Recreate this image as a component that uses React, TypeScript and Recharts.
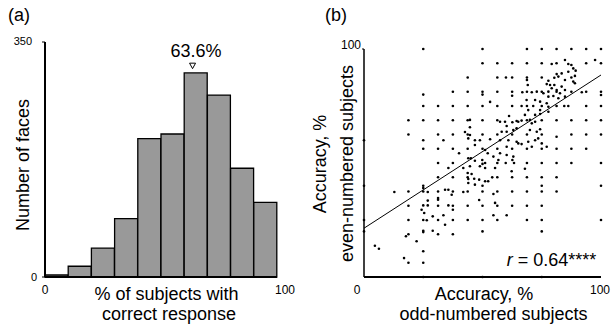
import React from "react";
import {
  BarChart,
  Bar,
  XAxis,
  YAxis,
  ScatterChart,
  Scatter,
  ReferenceLine,
  ReferenceDot,
} from "recharts";

const FONT = "'Liberation Sans', Arial, Helvetica, sans-serif";

// ---------- Panel (a): histogram ----------
const binStarts = [0, 10, 20, 30, 40, 50, 60, 70, 80, 90];
const binWidth = 10;
const faceCounts = [3, 16, 43, 87, 206, 213, 304, 271, 162, 111];
const peakPercent = 63.6;
const peakLabel = "63.6%";
const histYTicks = [0, 350];
const histXTicks = [0, 100];

// ---------- Panel (b): split-half scatter ----------
const scatterXTicks = [0, 100];
const scatterYTicks = [100];
const fitStart = { x: 0, y: 21.4 };
const fitEnd = { x: 100, y: 88.6 };
const corrText = "0.64****";

// [odd-numbered subjects accuracy %, even-numbered subjects accuracy %]
const splitHalfPoints: [number, number][] = [
  [25, 100], [25, 80], [25, 75], [31.25, 75], [18.75, 68.75], [25, 68.75], [31.25, 68.75],
  [18.75, 62.5], [31.25, 62.5], [25, 60], [25, 56.25], [31.25, 56.25], [0, 60],
  [50, 100], [50, 93.75], [56.25, 93.75], [62.5, 93.75], [43.75, 87.5], [56.25, 87.5], [59.9, 87.5],
  [62.5, 87.5], [37.5, 81.25], [43.75, 81.25], [50, 81.25], [50, 80], [56.25, 81.25], [62.5, 81.25],
  [62.5, 79.5], [53.2, 76.8], [37.5, 75], [43.75, 75], [50, 75], [56.25, 75], [62.5, 75], [61.2, 70.6],
  [37.5, 68.75], [43.75, 68.75], [44.7, 68.9], [50, 68.75], [56.25, 68.75], [57.4, 68.1], [59.5, 68.1],
  [62.6, 67.9], [64.4, 68.4], [44.7, 65.7], [60.2, 66.2], [58.1, 63.7], [60.2, 63.7], [63, 64.5],
  [64.4, 65.2], [37.5, 62.5], [42.6, 63.6], [43.75, 62.5], [44.7, 62.3], [50, 62.5], [56.25, 62.5],
  [62.5, 62.5], [33.5, 60], [44, 60.8], [46.8, 60], [48.9, 60], [53.2, 60.4], [57.4, 60], [60.9, 60],
  [64.4, 59.3], [46.8, 57.9], [60.2, 57.1], [37.5, 56.25], [43.75, 56.25], [50, 56.25], [51.1, 55.7],
  [56.25, 56.25], [62.5, 56.25], [40.1, 54.3], [52.2, 54.3], [57.4, 54.3], [60.2, 53.5], [44, 52.1],
  [45.1, 52.1], [54.6, 52.8], [46.8, 51], [56.7, 51.3], [63, 52.8],
  [68.75, 100], [75, 100], [81.25, 100], [87.5, 100], [93.75, 100], [100, 100],
  [68.75, 93.75], [75, 93.75], [79.2, 93.4], [81.25, 93.75], [84.8, 95.2], [86.2, 93.4], [87.5, 93],
  [93.75, 93.75], [97.5, 95.2], [100, 93.75], [88.3, 91.5], [86.2, 90], [89.3, 90.5], [81.3, 89],
  [83.4, 89.3], [68.75, 87.5], [75, 87.5], [80.3, 87.4], [82, 87.9], [87.5, 87.5], [89, 88.2],
  [68.75, 86.4], [77.8, 86.1], [84.8, 86.4], [88.3, 85.7], [89, 85], [69.1, 84.2], [77.1, 84.6],
  [78.5, 84.2], [80.3, 84.2], [83.4, 83.5], [79.2, 82.8], [81.3, 82], [84.8, 82], [66.8, 81],
  [68.75, 81.25], [70.8, 81], [72.9, 81.3], [75, 81.25], [75.7, 80.6], [77.8, 81.3], [81.25, 81.25],
  [82.7, 80.6], [87.5, 81.25], [91.9, 81], [93.75, 81.25], [100, 81.25], [100, 79.8], [77.8, 79.1],
  [79.9, 79.4], [82, 78.4], [84.8, 79.1], [68.6, 77.6], [72.2, 77.6], [74.3, 76.9], [77.1, 76.2],
  [66.5, 75], [68.75, 75], [71.4, 75], [75, 75], [77.8, 74.7], [81.25, 75], [84.5, 75], [86.2, 75],
  [93.75, 75], [100, 75], [69.3, 73.2], [74.3, 73.2], [77.8, 72.5], [67.9, 71.1], [72.2, 71.1],
  [74.3, 71.5], [68.75, 68.75], [70, 68.9], [75, 68.75], [81.25, 68.75], [87.5, 68.75], [93.75, 68.75],
  [100, 68.75], [65.1, 68.1], [66.5, 68.6], [70.8, 67.4], [72.2, 68.1], [70, 64.5], [72.9, 63.7],
  [74.3, 64.8], [68.75, 62.5], [75, 62.5], [81.25, 61.5], [87.5, 62.5], [93.75, 62.5], [100, 62.5],
  [65.1, 58.6], [66.5, 58.3], [69.3, 59.3], [72.2, 60], [73.5, 60.8], [75, 58.6], [70.8, 57.1],
  [68.75, 56.25], [75, 56.25], [77.1, 57.1], [81.25, 56.25], [87.5, 56.25], [93.75, 56.25],
  [31.25, 50], [25, 40], [25, 39], [12.8, 37.3], [18.75, 37.5], [25, 37.5], [26.9, 37.3], [31.25, 37.5],
  [31.25, 34.6], [31.25, 33.9], [26.9, 33.5], [18.75, 31.25], [25, 31.4], [26.9, 31.4], [31.25, 31.25],
  [24.3, 29.5], [25.4, 28.1], [29, 26.6], [18.75, 25], [25, 25], [26.5, 24.9], [31.25, 25], [25, 20.3],
  [25, 19.7], [29, 20.3], [18.75, 18.75], [17.7, 17.9], [31.25, 18.75], [22.2, 15.7], [4.6, 13.7],
  [6.3, 12.4], [25, 11.3], [16.9, 8.3], [18.75, 6.25], [25, 6.25], [0, 40], [0, 25], [0, 20],
  [31.25, 43.75], [37.5, 50], [49.9, 51.3], [51.1, 50], [50, 49.6], [56.25, 50], [59.8, 50], [62.6, 51.3],
  [63.3, 50], [35.6, 47.8], [41.9, 47.8], [44.7, 48.6], [48.9, 48.6], [51.1, 47.8], [55.3, 47.8],
  [62.3, 46.4], [43.75, 45.6], [45.4, 45.2], [37.5, 43.75], [43.75, 43.75], [44, 43], [46.5, 43.1],
  [48.6, 42.7], [51.1, 42], [52.4, 42], [54.1, 43.7], [56.25, 43.75], [62.5, 43.75], [44, 41.2],
  [46.8, 40.5], [50, 40], [34.2, 38.3], [35.6, 38.3], [37.5, 37.5], [37, 36.1], [41.9, 37.3],
  [43.75, 37.5], [50, 37.5], [54.6, 36.4], [56.25, 37.5], [62.5, 37.5], [48.6, 33.8], [55.3, 32.5],
  [35.6, 31.4], [37.5, 31.25], [37.5, 29.5], [43.75, 31.25], [50, 31.25], [56.25, 31.25], [62.5, 31.25],
  [33.5, 27.1], [54.6, 27.1], [60.2, 27.1], [37.5, 25], [43.75, 25], [50, 25], [56.25, 25], [34.2, 22.9],
  [50, 20], [37.5, 18.75],
  [68.75, 50], [75, 50], [81.25, 50], [87.5, 50], [100, 50], [67.9, 47.5], [68.75, 43.75], [75, 43.75],
  [81.25, 43.75], [75, 40], [100, 40], [68.75, 37.5], [75, 37.5], [81.25, 37.5], [68.75, 31.25],
  [75, 31.25], [68.75, 25], [75, 25], [100, 25], [75, 20],
  [25, 0], [50, 0], [75, 0],
];

const histData = binStarts.map((s, i) => ({ mid: s + binWidth / 2, count: faceCounts[i] }));
const scatterData = splitHalfPoints.map(([x, y]) => ({ x, y }));

type TickOpts = {
  anchor: "start" | "middle" | "end";
  size: number;
  dy: string;
  shift?: Record<number, [number, number]>;
};

const makeTick = (o: TickOpts) => (props: any) => {
  const { x, y, payload } = props;
  const v = payload.value;
  const s = (o.shift && o.shift[v]) || [0, 0];
  return (
    <text
      x={x + s[0]}
      y={y + s[1]}
      dy={o.dy}
      textAnchor={o.anchor}
      fontSize={o.size}
      fontFamily={FONT}
      fill="#000"
    >
      {v}
    </text>
  );
};

const PeakMarker = (props: any) => {
  const { cx, cy } = props;
  return (
    <g>
      <polygon
        points={`${cx - 3},${cy - 3} ${cx + 3},${cy - 3} ${cx},${cy + 2.5}`}
        fill="#fff"
        stroke="#000"
        strokeWidth={1}
      />
      <text
        x={cx + 3.5}
        y={cy - 9.5}
        textAnchor="middle"
        fontSize={18}
        fontFamily={FONT}
        fill="#000"
      >
        {peakLabel}
      </text>
    </g>
  );
};

const Dot = (props: any) => {
  const { cx, cy } = props;
  return <circle cx={cx} cy={cy} r={1.3} fill="#000" />;
};

export default function App() {
  return (
    <div
      style={{
        position: "absolute",
        left: 0,
        top: 0,
        width: 611,
        height: 324,
        background: "#fff",
        overflow: "hidden",
        fontFamily: FONT,
      }}
    >
      <div style={{ position: "absolute", left: 0, top: 0 }}>
        <BarChart
          width={300}
          height={324}
          data={histData}
          margin={{ top: 42, right: 23, left: 15, bottom: 17 }}
          barCategoryGap={0}
          barGap={0}
        >
          <XAxis
            dataKey="mid"
            type="number"
            domain={[0, 100]}
            ticks={histXTicks}
            height={30}
            tickLine={false}
            tickSize={0}
            tickMargin={8}
            axisLine={{ stroke: "#000", strokeWidth: 2 }}
            tick={makeTick({ anchor: "middle", size: 12, dy: "0.71em", shift: { 100: [8, 0] } })}
            interval={0}
          />
          <YAxis
            type="number"
            domain={[0, 350]}
            ticks={histYTicks}
            width={30}
            tickSize={3}
            tickMargin={5}
            tickLine={{ stroke: "#000", strokeWidth: 1 }}
            axisLine={{ stroke: "#000", strokeWidth: 2 }}
            tick={makeTick({ anchor: "end", size: 11, dy: "0.355em", shift: { 350: [-5, -1] } })}
            interval={0}
          />
          <Bar
            dataKey="count"
            fill="#999999"
            stroke="#000"
            strokeWidth={1.3}
            isAnimationActive={false}
          />
          <ReferenceDot
            x={peakPercent}
            y={314}
            shape={PeakMarker}
            ifOverflow="visible"
          />
        </BarChart>
      </div>

      <div style={{ position: "absolute", left: 300, top: 0 }}>
        <ScatterChart
          width={311}
          height={324}
          margin={{ top: 49, right: 10, left: 34, bottom: 17 }}
        >
          <XAxis
            dataKey="x"
            type="number"
            domain={[0, 100]}
            ticks={scatterXTicks}
            height={30}
            tickLine={false}
            tickSize={0}
            tickMargin={8}
            axisLine={{ stroke: "#000", strokeWidth: 2 }}
            tick={makeTick({ anchor: "middle", size: 12, dy: "0.71em", shift: { 0: [-7, 0], 100: [-1, 0] } })}
            interval={0}
          />
          <YAxis
            dataKey="y"
            type="number"
            domain={[0, 100]}
            ticks={scatterYTicks}
            width={30}
            tickSize={2}
            tickMargin={1}
            tickLine={{ stroke: "#000", strokeWidth: 1 }}
            axisLine={{ stroke: "#000", strokeWidth: 1.5 }}
            tick={makeTick({ anchor: "end", size: 12, dy: "0.355em", shift: { 100: [0, -4] } })}
            interval={0}
          />
          <Scatter data={scatterData} shape={Dot} isAnimationActive={false} />
          <ReferenceLine
            segment={[fitStart, fitEnd]}
            stroke="#000"
            strokeWidth={1}
            ifOverflow="visible"
          />
        </ScatterChart>
      </div>

      <svg
        width={611}
        height={324}
        style={{ position: "absolute", left: 0, top: 0, pointerEvents: "none" }}
      >
        <g fontFamily={FONT} fontSize={18} fill="#000">
          <text x={8} y={21}>(a)</text>
          <text x={325} y={21}>(b)</text>
          <text
            transform="translate(23,165) rotate(-90)"
            textAnchor="middle"
            dominantBaseline="central"
          >
            Number of faces
          </text>
          <text x={166.5} y={300} textAnchor="middle">% of subjects with</text>
          <text x={169} y={320} textAnchor="middle">correct response</text>
          <text
            transform="translate(320,164) rotate(-90)"
            textAnchor="middle"
            dominantBaseline="central"
          >
            Accuracy, %
          </text>
          <text
            transform="translate(347,163.5) rotate(-90)"
            textAnchor="middle"
            dominantBaseline="central"
          >
            even-numbered subjects
          </text>
          <text x={484} y={300} textAnchor="middle">Accuracy, %</text>
          <text x={493.5} y={320} textAnchor="middle">odd-numbered subjects</text>
          <text x={506.7} y={266}>
            <tspan fontStyle="italic">r</tspan>
            <tspan> = {corrText}</tspan>
          </text>
        </g>
      </svg>
    </div>
  );
}
